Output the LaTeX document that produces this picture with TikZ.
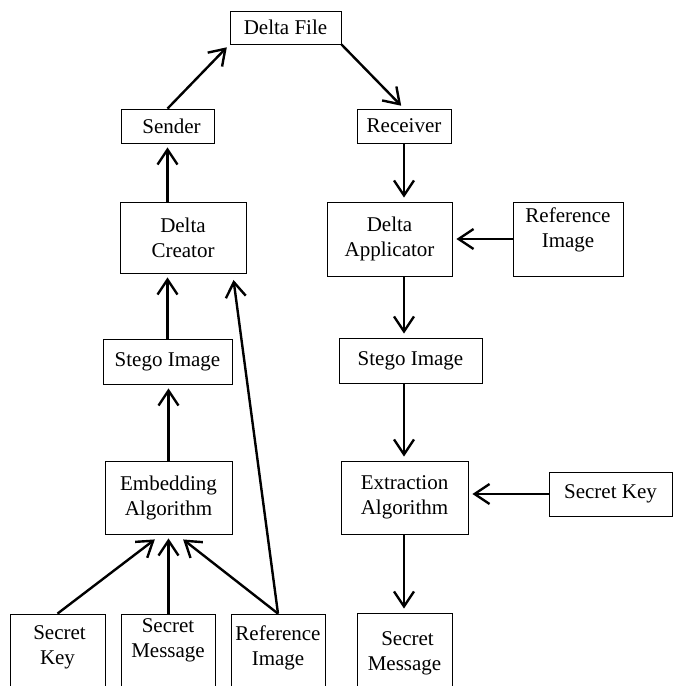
\documentclass[tikz,border=0pt]{standalone}
\usepackage{fontspec}
\setmainfont{Liberation Serif}
\usetikzlibrary{arrows.meta}
\tikzset{
  box/.style={draw, line width=0.8pt, align=center, inner sep=0pt,
    font=\fontsize{21}{25}\selectfont},
  flow/.style={line width=2.4pt, -{Straight Barb[length=15pt,width=20pt,line width=2.4pt]},
    shorten >=4pt}
}
\begin{document}
\begin{tikzpicture}[x=1pt,y=-1pt]
            \useasboundingbox (0,0) rectangle (673,686);
            \clip (0,0) rectangle (673,686);

            \node[box,minimum width=111,minimum height=33] (file) at (285.5, 27.5) {Delta File};
            \node[box,minimum width=93,minimum height=34] (sender) at (167.5, 126) {\hspace{8pt}Sender};
            \node[box,minimum width=94,minimum height=34] (receiver) at (404, 126) {Receiver};

            \node[box,minimum width=126,minimum height=71] (creator) at (183, 237.5) {Delta\\Creator};
            \node[box,minimum width=129,minimum height=45] (stegoL) at (167.5, 361.5) {Stego Image};
            \node[box,minimum width=127,minimum height=73] (embed) at (168.5, 497.5) {Embedding\\Algorithm};

            \node[box,minimum width=125,minimum height=74] (applic) at (389.5, 239) {Delta\\Applicator};
            \node[box,minimum width=110,minimum height=74] (refR) at (568, 239) {Reference\\Image\\[-2pt]};
            \node[box,minimum width=143,minimum height=45] (stegoR) at (410.5, 360.5) {Stego Image};
            \node[box,minimum width=127,minimum height=73] (extract) at (404.5, 497.5) {Extraction\hspace{28pt}\\Algorithm\hspace{20pt}};
            \node[box,minimum width=123,minimum height=44] (keyR) at (610.5, 494) {Secret Key};
            \node[box,minimum width=95,minimum height=80] (msgR) at (404.5, 653) {\hspace{6pt}Secret\\Message};

            \node[box,minimum width=95,minimum height=80] (keyL) at (57.5, 654) {\hspace{4pt}Secret\\Key\\[-8pt]};
            \node[box,minimum width=94,minimum height=80] (msgL) at (168, 654) {Secret\\Message\\[6pt]};
            \node[box,minimum width=94,minimum height=80] (refL) at (278, 654) {Reference\\Image\\[-8pt]};

            \coordinate (keyTip) at (158, 537);
            \coordinate (refTip) at (180, 537);
            \coordinate (creatorTip) at (233, 276);

            \draw[flow] (keyL.north) -- (keyTip);
            \draw[flow] (msgL.north -| embed) -- (embed.south);
            \draw[flow] (refL.north) -- (refTip);
            \draw[flow] (refL.north) -- (creatorTip);

            \draw[flow] (embed.north) -- (stegoL.south -| embed);
            \draw[flow] (stegoL.north -| sender) -- (creator.south -| sender);
            \draw[flow] (creator.north -| sender) -- (sender.south);
            \draw[flow] (sender.north) -- (file.south west);

            \draw[flow] (file.south east) -- (receiver.north);
            \draw[flow] (receiver.south) -- (applic.north -| receiver);
            \draw[flow] (refR.west) -- (applic.east);
            \draw[flow] (applic.south -| receiver) -- (stegoR.north -| receiver);
            \draw[flow] (stegoR.south -| receiver) -- (extract.north -| receiver);
            \draw[flow] (keyR.west) -- (extract.east |- keyR.west);
            \draw[flow] (extract.south -| receiver) -- (msgR.north -| receiver);

        \end{tikzpicture}
\end{document}
